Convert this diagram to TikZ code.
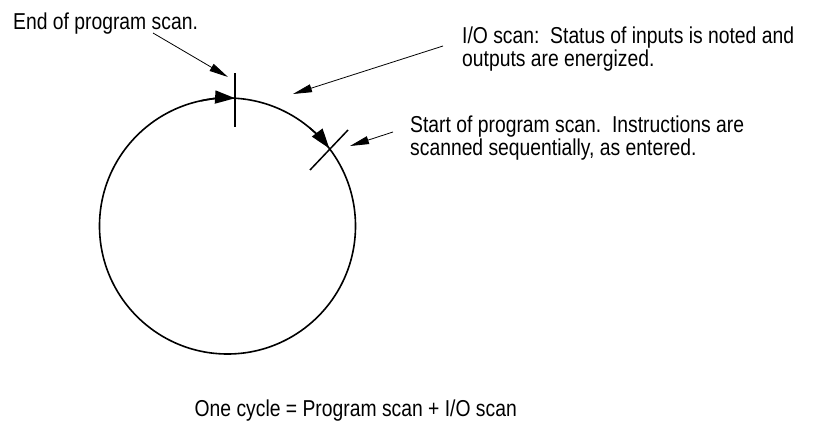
\documentclass[tikz,border=0pt]{standalone}
\usepackage{fontspec}
\setmainfont{Liberation Sans}[FakeStretch=0.84]
\usetikzlibrary{arrows.meta}
\begin{document}
\begin{tikzpicture}[x=1pt,y=-1pt,
  lbl/.style={inner sep=0pt, anchor=base west, align=left,
    font=\fontsize{23}{22.5}\selectfont},
  ptr/.style={line width=0.8pt, -{Triangle[length=19pt,width=8pt]}},
  ring/.style={line width=1.6pt},
  ringtip/.style={line width=1.6pt, -{Triangle[length=20pt,width=13pt]}},
  tick/.style={line width=1.5pt}]
\useasboundingbox (0,0) rectangle (814,423);
\coordinate (o) at (227.5,226);
\draw[ring] (o) circle[radius=128];
% arrowheads on the circle
\draw[ringtip] ([shift={(-102:128)}]o) arc[start angle=-102, end angle=-86.6, radius=128];
\draw[ringtip] ([shift={(-50:128)}]o) arc[start angle=-50, end angle=-37.3, radius=128];
% ticks
\coordinate (ta1) at (235,73);
\coordinate (ta2) at (235,127);
\draw[tick] (ta1) -- (ta2);
\coordinate (tb1) at (310,170);
\coordinate (tb2) at (348,130);
\draw[tick] (tb1) -- (tb2);
% labels
\node[lbl] (t1) at (13,29) {End of program scan.};
\node[lbl] (t2) at (462,66) {I/O scan:~~Status of inputs is noted and\\outputs are energized.};
\node[lbl] (t3) at (410,155) {Start of program scan.~~Instructions are\\scanned sequentially, as entered.};
\node[lbl, anchor=base east] (t4) at (517,416) {One cycle = Program scan + I/O scan};
% pointer arrows
\coordinate (p1s) at (153,33);
\coordinate (p1e) at (228,77);
\coordinate (p2s) at (443,46);
\coordinate (p2e) at (293,94);
\coordinate (p3s) at (393,132);
\coordinate (p3e) at (350,146);
\draw[ptr] (p1s) -- (p1e);
\draw[ptr] (p2s) -- (p2e);
\draw[ptr] (p3s) -- (p3e);
\end{tikzpicture}
\end{document}
